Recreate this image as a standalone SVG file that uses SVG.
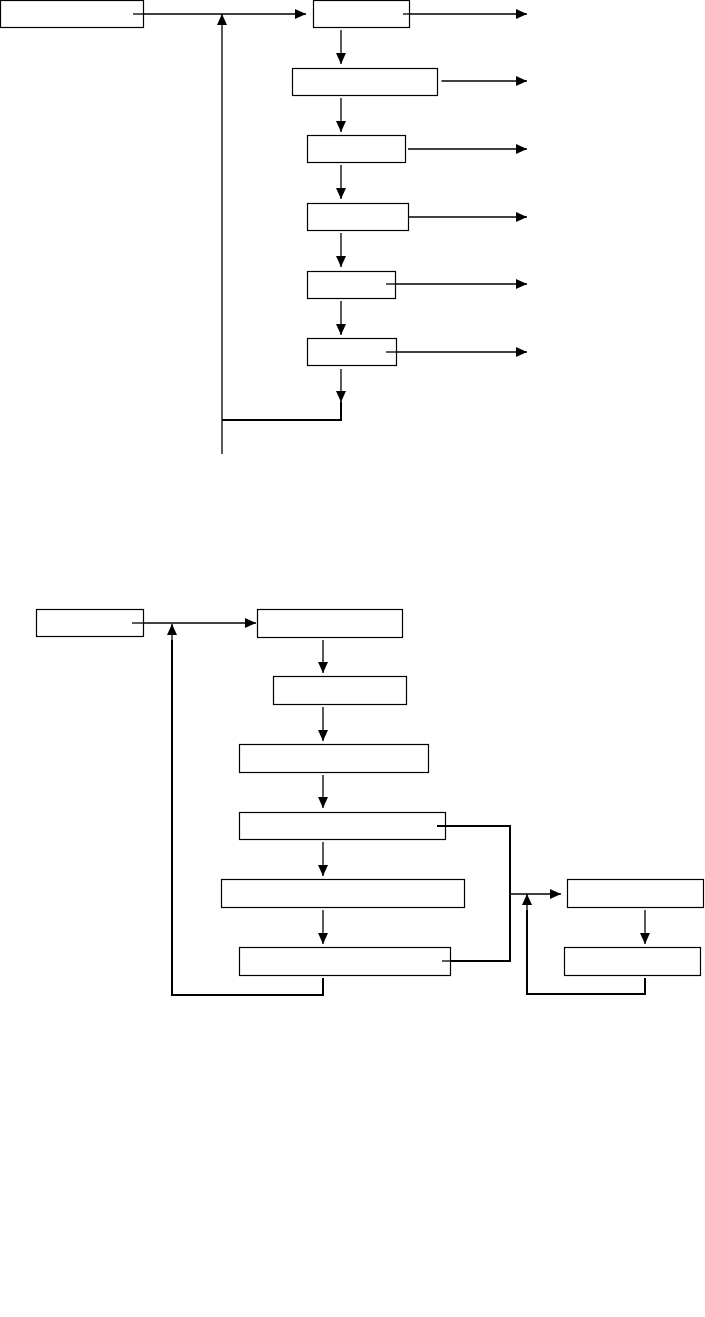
<svg xmlns="http://www.w3.org/2000/svg" width="705" height="1317" viewBox="0 0 705 1317">
  <style>
    .box { fill: #ffffff; stroke: #000000; stroke-width: 1.2; }
    .ln { fill: none; stroke: #000000; stroke-width: 1.3; }
    .thick { fill: none; stroke: #000000; stroke-width: 2; }
    .arr { fill: none; stroke: #000000; stroke-width: 1.3; marker-end: url(#head); }
  </style>
  <defs>
    <marker id="head" markerUnits="userSpaceOnUse" markerWidth="11" markerHeight="10" refX="11" refY="5" orient="auto">
      <path d="M0,0 L11,5 L0,10 z" fill="#000000"/>
    </marker>
  </defs>
  <rect x="0" y="0" width="705" height="1317" fill="#ffffff"/>

  <g id="connectors">
    <!-- top diagram -->
    <path class="arr" d="M137,14 H306"/>
    <path class="arr" d="M222,454 V14"/>
    <path class="arr" d="M408,14 H527"/>
    <path class="arr" d="M441.5,81 H527"/>
    <path class="arr" d="M408,149 H527"/>
    <path class="arr" d="M408,217 H527"/>
    <path class="arr" d="M391,284 H527"/>
    <path class="arr" d="M391,352 H527"/>
    <path class="arr" d="M341,30 V64"/>
    <path class="arr" d="M341,98 V132"/>
    <path class="arr" d="M341,165 V199"/>
    <path class="arr" d="M341,233 V267"/>
    <path class="arr" d="M341,301 V335"/>
    <path class="arr" d="M341,369 V402"/>
    <path class="thick" d="M341,402 V420 H222"/>

    <!-- bottom diagram -->
    <path class="arr" d="M137,623 H256"/>
    <path class="thick" d="M323,978 V995 H172 V640"/>
    <path class="arr" d="M172,660 V624"/>
    <path class="arr" d="M323,640 V673"/>
    <path class="arr" d="M323,707 V741"/>
    <path class="arr" d="M323,775 V808"/>
    <path class="arr" d="M323,842 V876"/>
    <path class="arr" d="M323,910 V944"/>
    <path class="thick" d="M442,826 H510 V961 H442"/>
    <path class="arr" d="M510,894 H561"/>
    <path class="arr" d="M645,910 V944"/>
    <path class="thick" d="M645,978 V994 H527 V910"/>
    <path class="arr" d="M527,930 V894"/>
  </g>

  <g id="n-a"><rect class="box" x="0.5" y="0.5" width="143" height="27"/></g>
  <g id="n-b1"><rect class="box" x="313.5" y="0.5" width="96" height="27"/></g>
  <g id="n-b2"><rect class="box" x="292.5" y="68.5" width="145" height="27"/></g>
  <g id="n-b3"><rect class="box" x="307.5" y="135.5" width="98" height="27"/></g>
  <g id="n-b4"><rect class="box" x="307.5" y="203.5" width="101" height="27"/></g>
  <g id="n-b5"><rect class="box" x="307.5" y="271.5" width="88" height="27"/></g>
  <g id="n-b6"><rect class="box" x="307.5" y="338.5" width="89" height="27"/></g>

  <g id="n-c0"><rect class="box" x="36.5" y="609.5" width="107" height="27"/></g>
  <g id="n-d1"><rect class="box" x="257.5" y="609.5" width="145" height="28"/></g>
  <g id="n-d2"><rect class="box" x="273.5" y="676.5" width="133" height="28"/></g>
  <g id="n-d3"><rect class="box" x="239.5" y="744.5" width="189" height="28"/></g>
  <g id="n-d4"><rect class="box" x="239.5" y="812.5" width="206" height="27"/></g>
  <g id="n-d5"><rect class="box" x="221.5" y="879.5" width="243" height="28"/></g>
  <g id="n-d6"><rect class="box" x="239.5" y="947.5" width="211" height="28"/></g>
  <g id="n-e1"><rect class="box" x="567.5" y="879.5" width="136" height="28"/></g>
  <g id="n-e2"><rect class="box" x="564.5" y="947.5" width="136" height="28"/></g>

  <g id="overlays">
    <path class="ln" d="M133,14 H143.5"/>
    <path class="ln" d="M403,14 H409.5"/>
    <path class="ln" d="M386,284 H395.5"/>
    <path class="ln" d="M386,352 H396.5"/>
    <path class="ln" d="M132,623 H143.5"/>
    <path class="thick" d="M437,826 H445.5"/>
    <path class="ln" d="M442,961 H450.5"/>
  </g>
</svg>
